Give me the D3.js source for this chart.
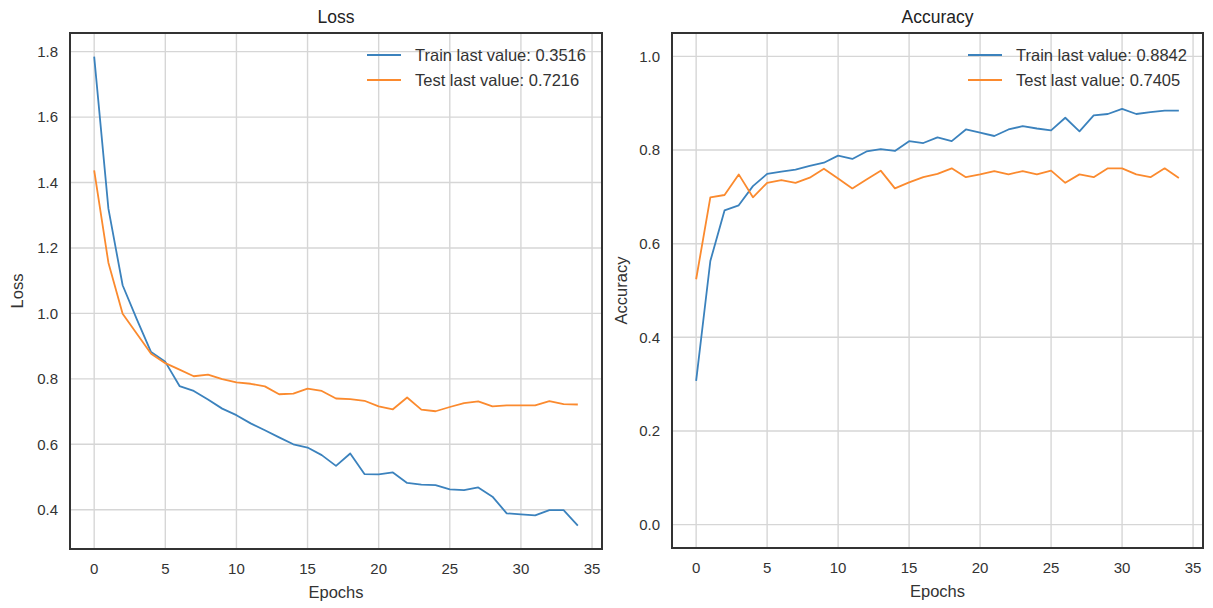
<!DOCTYPE html>
<html>
<head>
<meta charset="utf-8">
<script src="https://cdn.jsdelivr.net/npm/d3@7/dist/d3.min.js"></script>
<style>
  html, body { margin: 0; padding: 0; background: #fff; }
  svg { display: block; font-family: "Liberation Sans", Arial, sans-serif; }
</style>
</head>
<body>
<svg id="chart" width="1213" height="608"></svg>
<script>
// Training history, one value per epoch
const epochs = d3.range(35);

const lossTrain = [1.785, 1.32, 1.086, 0.982, 0.882, 0.852, 0.778, 0.763, 0.737, 0.709,
  0.689, 0.664, 0.643, 0.621, 0.600, 0.590, 0.567, 0.534, 0.572, 0.509,
  0.508, 0.514, 0.482, 0.477, 0.475, 0.462, 0.460, 0.468, 0.440, 0.389,
  0.386, 0.383, 0.399, 0.399, 0.3516];
const lossTest = [1.437, 1.155, 0.999, 0.938, 0.877, 0.848, 0.828, 0.808, 0.813, 0.799,
  0.789, 0.785, 0.777, 0.753, 0.755, 0.770, 0.763, 0.740, 0.738, 0.733,
  0.716, 0.707, 0.743, 0.706, 0.701, 0.714, 0.726, 0.731, 0.716, 0.719,
  0.719, 0.719, 0.732, 0.723, 0.7216];
const accTrain = [0.307, 0.563, 0.671, 0.682, 0.723, 0.749, 0.754, 0.758, 0.766, 0.773,
  0.788, 0.781, 0.797, 0.802, 0.798, 0.819, 0.815, 0.827, 0.819, 0.844,
  0.837, 0.830, 0.844, 0.851, 0.846, 0.842, 0.869, 0.840, 0.874, 0.877,
  0.888, 0.877, 0.881, 0.884, 0.8842];
const accTest = [0.524, 0.699, 0.704, 0.748, 0.699, 0.730, 0.736, 0.730, 0.741, 0.760,
  0.739, 0.718, 0.737, 0.756, 0.718, 0.731, 0.742, 0.749, 0.761, 0.742,
  0.748, 0.755, 0.748, 0.755, 0.748, 0.756, 0.730, 0.748, 0.742, 0.761,
  0.761, 0.748, 0.742, 0.761, 0.7405];

const xTicks = [0, 5, 10, 15, 20, 25, 30, 35];
const lossTicks = [0.4, 0.6, 0.8, 1.0, 1.2, 1.4, 1.6, 1.8];
const accTicks = [0.0, 0.2, 0.4, 0.6, 0.8, 1.0];

const BLUE = "#3b82bd";
const ORANGE = "#fb8a2e";

const svg = d3.select("#chart");

function panel(opts) {
  const { left, right, top, bottom, yDomain, yTicks, title, ylabel, ylabelX,
          train, test, trainLast, testLast } = opts;
  const x = d3.scaleLinear().domain([-1.7, 35.7]).range([left, right]);
  const y = d3.scaleLinear().domain(yDomain).range([bottom, top]);
  const g = svg.append("g");

  // grid
  g.append("g").selectAll("line").data(xTicks).join("line")
    .attr("x1", d => x(d)).attr("x2", d => x(d))
    .attr("y1", top).attr("y2", bottom)
    .attr("stroke", "#d6d6d6").attr("stroke-width", 1.4);
  g.append("g").selectAll("line").data(yTicks).join("line")
    .attr("x1", left).attr("x2", right)
    .attr("y1", d => y(d)).attr("y2", d => y(d))
    .attr("stroke", "#d6d6d6").attr("stroke-width", 1.4);

  // tick labels
  g.append("g").selectAll("text").data(xTicks).join("text")
    .attr("x", d => x(d)).attr("y", bottom + 25)
    .attr("text-anchor", "middle").attr("font-size", 15).attr("fill", "#333")
    .text(d => d);
  g.append("g").selectAll("text").data(yTicks).join("text")
    .attr("x", left - 12).attr("y", d => y(d)).attr("dy", "0.35em")
    .attr("text-anchor", "end").attr("font-size", 15).attr("fill", "#333")
    .text(d => d3.format(".1f")(d));

  // series
  const line = d3.line().x((d, i) => x(epochs[i])).y(d => y(d));
  const plot = g.append("g");
  plot.append("path").datum(train).attr("d", line)
    .attr("fill", "none").attr("stroke", BLUE).attr("stroke-width", 1.8)
    .attr("stroke-linejoin", "round");
  plot.append("path").datum(test).attr("d", line)
    .attr("fill", "none").attr("stroke", ORANGE).attr("stroke-width", 1.8)
    .attr("stroke-linejoin", "round");

  // frame
  g.append("rect").attr("x", left).attr("y", top)
    .attr("width", right - left).attr("height", bottom - top)
    .attr("fill", "none").attr("stroke", "#333").attr("stroke-width", 2);

  // legend
  const lx = right - 235;
  const legend = [
    { label: "Train last value: " + d3.format(".4f")(trainLast), color: BLUE, yy: top + 22 },
    { label: "Test last value: " + d3.format(".4f")(testLast), color: ORANGE, yy: top + 47 }
  ];
  const lg = g.append("g");
  lg.selectAll("line").data(legend).join("line")
    .attr("x1", lx).attr("x2", lx + 34)
    .attr("y1", d => d.yy).attr("y2", d => d.yy)
    .attr("stroke", d => d.color).attr("stroke-width", 1.8);
  lg.selectAll("text").data(legend).join("text")
    .attr("x", lx + 48).attr("y", d => d.yy).attr("dy", "0.35em")
    .attr("font-size", 16.5).attr("fill", "#333")
    .text(d => d.label);

  // titles and axis labels
  g.append("text").attr("x", (left + right) / 2).attr("y", top - 10)
    .attr("text-anchor", "middle").attr("font-size", 17.5).attr("fill", "#222")
    .text(title);
  g.append("text").attr("x", (left + right) / 2).attr("y", bottom + 49)
    .attr("text-anchor", "middle").attr("font-size", 16.5).attr("fill", "#333")
    .text("Epochs");
  g.append("text")
    .attr("transform", `translate(${ylabelX},${(top + bottom) / 2}) rotate(-90)`)
    .attr("text-anchor", "middle").attr("font-size", 16.5).attr("fill", "#333")
    .text(ylabel);
}

panel({
  left: 70, right: 602, top: 33, bottom: 549,
  yDomain: [0.280, 1.857], yTicks: lossTicks,
  title: "Loss", ylabel: "Loss", ylabelX: 23,
  train: lossTrain, test: lossTest,
  trainLast: lossTrain[lossTrain.length - 1], testLast: lossTest[lossTest.length - 1]
});

panel({
  left: 672, right: 1203, top: 33, bottom: 548,
  yDomain: [-0.05, 1.05], yTicks: accTicks,
  title: "Accuracy", ylabel: "Accuracy", ylabelX: 627,
  train: accTrain, test: accTest,
  trainLast: accTrain[accTrain.length - 1], testLast: accTest[accTest.length - 1]
});
</script>
</body>
</html>
